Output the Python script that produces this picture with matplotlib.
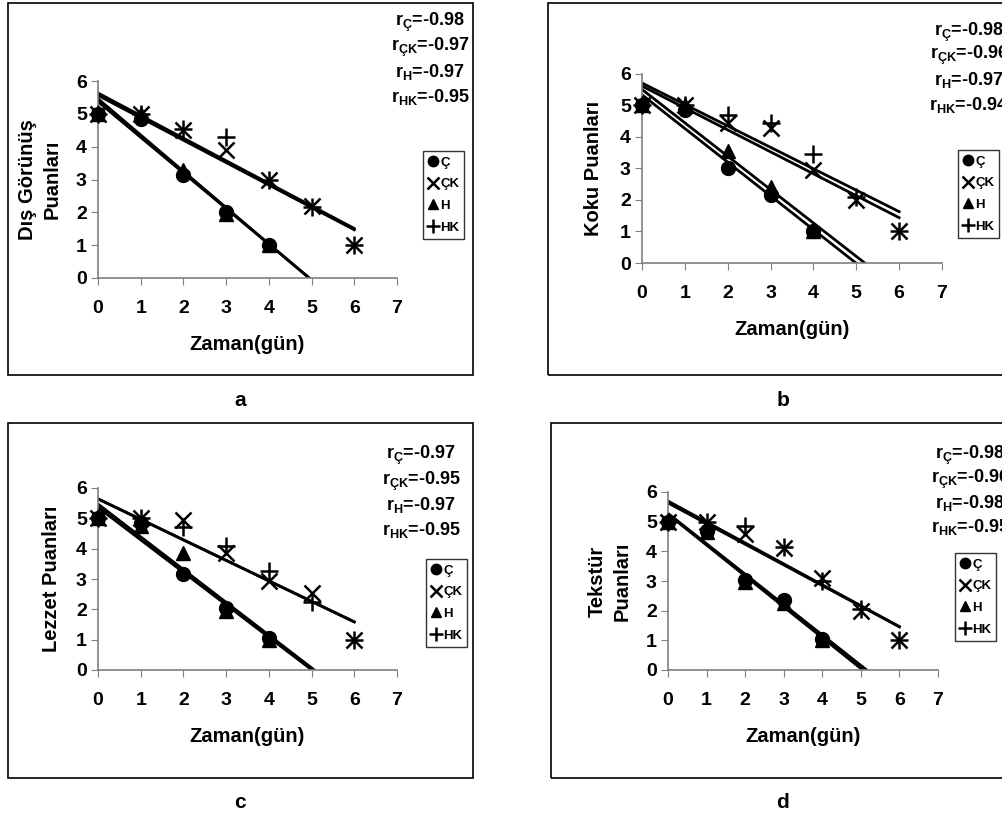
import numpy as np
import matplotlib
matplotlib.use("Agg")
import matplotlib.pyplot as plt
from matplotlib.patches import Rectangle
from matplotlib.lines import Line2D

plt.rcParams['font.family'] = ['Liberation Sans', 'DejaVu Sans']
plt.rcParams['font.weight'] = 'bold'
plt.rcParams['mathtext.fontset'] = 'custom'
plt.rcParams['mathtext.rm'] = 'Liberation Sans:bold'
plt.rcParams['mathtext.it'] = 'Liberation Sans:bold'
plt.rcParams['mathtext.bf'] = 'Liberation Sans:bold'
plt.rcParams['mathtext.default'] = 'rm'

# days for each group
days_short = [0, 1, 2, 3, 4]
days_long = [0, 1, 2, 3, 4, 5, 6]
series_names = ["Ç", "ÇK", "H", "HK"]

# a - Dış Görünüş
dis_c = [5, 4.85, 3.15, 2.0, 1.0]
dis_ck = [5, 5, 4.5, 3.9, 3.0, 2.2, 1.0]
dis_h = [5, 5, 3.3, 1.95, 1.0]
dis_hk = [5, 5, 4.55, 4.3, 3.0, 2.15, 1.0]
dis_r = ["-0.98", "-0.97", "-0.97", "-0.95"]

# b - Koku
koku_c = [5, 4.85, 3.0, 2.15, 1.0]
koku_ck = [5, 5, 4.45, 4.3, 2.95, 2.0, 1.0]
koku_h = [5, 5, 3.55, 2.4, 1.0]
koku_hk = [5, 5, 4.7, 4.45, 3.45, 2.1, 1.0]
koku_r = ["-0.98", "-0.96", "-0.97", "-0.94"]

# c - Lezzet
lezzet_c = [5, 4.85, 3.15, 2.05, 1.05]
lezzet_ck = [5, 5, 4.95, 3.85, 2.95, 2.55, 1.0]
lezzet_h = [5, 4.75, 3.85, 1.95, 1.0]
lezzet_hk = [5, 5, 4.7, 4.1, 3.25, 2.25, 1.0]
lezzet_r = ["-0.97", "-0.95", "-0.97", "-0.95"]

# d - Tekstür
tekstur_c = [5, 4.7, 3.05, 2.35, 1.05]
tekstur_ck = [5, 5, 4.6, 4.1, 3.1, 2.0, 1.0]
tekstur_h = [5, 4.65, 2.95, 2.25, 1.0]
tekstur_hk = [5, 5, 4.85, 4.15, 3.0, 2.05, 1.0]
tekstur_r = ["-0.98", "-0.96", "-0.98", "-0.95"]

W, H = 1003, 816
fig = plt.figure(figsize=(W / 100, H / 100), dpi=100)


def fx(px):
    return px / W


def fy(py):
    return 1 - py / H


def draw_panel(box, axes_px, ylabel, ylabelpad, data, r_vals, r_center, r_ys, legend_px, letter_px, letter):
    """ Draw one framed panel with points, trend lines, r values and legend. """
    x0, y0, x1, y1 = box
    fig.add_artist(Rectangle((fx(x0), fy(y1)), fx(x1 - x0), (y1 - y0) / H,
                             transform=fig.transFigure, fill=False, ec='black', lw=1.2))
    ax_l, ax_r, ax_b, ax_t = axes_px
    ax = fig.add_axes([fx(ax_l), fy(ax_b), fx(ax_r - ax_l), (ax_b - ax_t) / H])
    ax.patch.set_alpha(0)

    styles = [
        dict(marker='o', ms=10, mfc='black', mec='black'),
        dict(marker='x', ms=11, mew=1.8, color='black'),
        dict(marker='^', ms=10, mfc='black', mec='black'),
        dict(marker='+', ms=13, mew=1.8, color='black'),
    ]
    for (xs, ys), st in zip(data, styles):
        ax.plot(xs, ys, ls='none', clip_on=False, zorder=3, **st)
    for xs, ys in data:
        slope, icpt = np.polyfit(xs, ys, 1)
        x_end = min(6, -icpt / slope)
        ax.plot([0, x_end], [icpt, icpt + slope * x_end], color='black', lw=2, zorder=2)

    ax.set_xlim(0, 7)
    ax.set_ylim(0, 6)
    ax.set_xticks(range(8))
    ax.set_yticks(range(7))
    for s in ['top', 'right']:
        ax.spines[s].set_visible(False)
    for s in ['left', 'bottom']:
        ax.spines[s].set_color('#808080')
        ax.spines[s].set_linewidth(1.2)
    ax.tick_params(axis='x', direction='out', length=5, color='#808080', pad=11, labelsize=14)
    ax.tick_params(axis='y', direction='out', length=5, color='#808080', pad=3, labelsize=14)
    ax.set_xlabel("Zaman(gün)", fontsize=14.5, fontweight='bold', labelpad=13)
    ax.set_ylabel(ylabel, fontsize=14.5, fontweight='bold', labelpad=ylabelpad, linespacing=1.4)

    subs = ["Ç", "ÇK", "H", "HK"]
    for sub, val, ry in zip(subs, r_vals, r_ys):
        fig.text(fx(r_center), fy(ry), "r$_{%s}$=%s" % (sub, val), ha='center', va='center',
                 fontsize=13, fontweight='bold')

    handles = [Line2D([], [], ls='none', **dict(st, ms=st['ms'] * 0.75)) for st in styles]
    leg = fig.legend(handles, series_names, loc='upper left',
                     bbox_to_anchor=(fx(legend_px[0]), fy(legend_px[1])), bbox_transform=fig.transFigure,
                     frameon=True, fancybox=False, edgecolor='black', fontsize=9.5,
                     handlelength=0.7, handletextpad=0.2, labelspacing=0.72, borderpad=0.4,
                     borderaxespad=0)
    leg.get_frame().set_linewidth(1)
    for t in leg.get_texts():
        t.set_fontweight('bold')

    fig.text(fx(letter_px[0]), fy(letter_px[1]), letter, ha='center', va='center', fontsize=15, fontweight='bold')


draw_panel((8, 3, 473, 375), (98, 397, 278, 81), "Dış Görünüş\nPuanları", 10,
           [(days_short, dis_c), (days_long, dis_ck), (days_short, dis_h), (days_long, dis_hk)],
           dis_r, 430, [22, 47, 72, 97], (423, 151), (240, 401), "a")
draw_panel((548, 3, 1010, 375), (642, 942, 263, 74), "Koku Puanları", 12,
           [(days_short, koku_c), (days_long, koku_ck), (days_short, koku_h), (days_long, koku_hk)],
           koku_r, 969, [32, 55, 80, 105], (958, 150), (783, 401), "b")
draw_panel((8, 423, 473, 778), (98, 397, 670, 488), "Lezzet Puanları", 11,
           [(days_short, lezzet_c), (days_long, lezzet_ck), (days_short, lezzet_h), (days_long, lezzet_hk)],
           lezzet_r, 421, [455, 481, 505, 530], (426, 559), (240, 803), "c")
draw_panel((551, 423, 1010, 778), (668, 938, 670, 492), "Tekstür\nPuanları", 10,
           [(days_short, tekstur_c), (days_long, tekstur_ck), (days_short, tekstur_h), (days_long, tekstur_hk)],
           tekstur_r, 970, [455, 479, 503, 527], (955, 553), (783, 803), "d")

fig.savefig("out.png", dpi=100)
